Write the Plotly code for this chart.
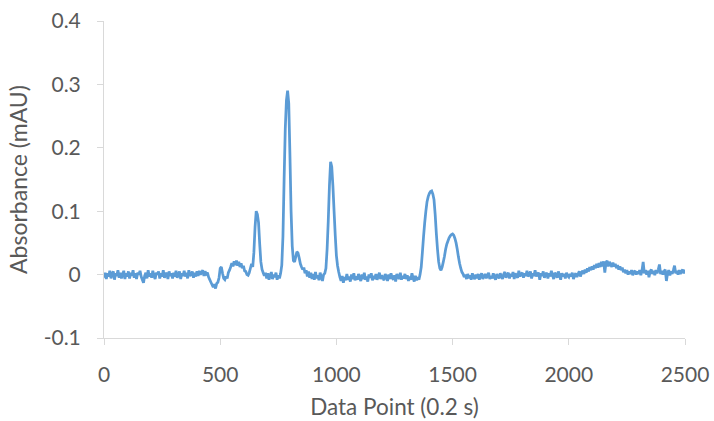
import plotly.graph_objects as go

# Data point index (every 5th point of the 0.2 s sampled trace)
data_point = list(range(0, 2501, 5))

# Absorbance, in thousandths of a mAU (1e-3 mAU units)
absorbance_milli = [
    # 0 - 95
    -5, 3, -7, 2, -3, 6, -6, 1, 5, -8, 2, -2, 7, -5, 3, -6, 0, 6, -7, 2,
    # 100 - 195
    -3, 5, -6, 3, -2, 7, -5, 2, -7, 3, 0, 6, -3, -8, -13, -2, 3, -6, 7, -3,
    # 200 - 295
    2, -5, 6, -2, -7, 3, 0, 5, -6, 2, -3, 7, -5, 0, 3, -7, 5, -2, 2, -6,
    # 300 - 395
    3, -3, 6, -5, 0, 5, -7, 2, -2, 6, -3, 3, -6, 7, -2, 0, 5, -5, 3, -3,
    # 400 - 495
    5, -2, 6, 0, 3, 7, -2, 5, 1, 3, -4, -8, -12, -16, -20, -15, -22, -14, -12, -5,
    # 500 - 595
    10, 12, 2, -6, -8, -3, -6, 3, 7, 12, 18, 13, 21, 15, 22, 14, 20, 12, 18, 10,
    # 600 - 695
    14, 6, 5, 0, -1, 3, 10, 17, 12, 35, 75, 100, 95, 82, 48, 20, 8, 3, -2, 3,
    # 700 - 795
    -6, 2, -8, -2, 4, -7, 0, -4, 3, -8, -1, -6, 2, 15, 60, 150, 230, 275, 290, 270,
    # 800 - 895
    190, 100, 45, 22, 20, 28, 36, 34, 26, 17, 12, 8, 11, 2, 7, -3, 5, -5, 3, -7,
    # 900 - 995
    1, -8, 4, -6, -1, -9, 3, -4, -10, 0, 2, 10, 40, 85, 140, 178, 170, 140, 100, 62,
    # 1000 - 1095
    30, 14, 4, -4, -10, -2, -13, -4, -9, 1, -8, -3, -11, 0, -7, 2, -9, -3, -8, 1,
    # 1100 - 1195
    -5, -10, 0, -7, 3, -8, -3, -11, 0, -5, 2, -9, -2, -7, 1, -8, -3, 3, -7, -1,
    # 1200 - 1295
    -5, -9, 1, -3, -10, 0, -7, 2, -5, -8, -1, -11, 1, -3, -7, 3, -8, -2, -6, 1,
    # 1300 - 1395
    -7, -1, -10, -3, -8, 2, -5, -11, -2, -9, -4, -8, 0, 12, 35, 60, 82, 100, 115, 123,
    # 1400 - 1495
    128, 131, 132, 127, 118, 95, 65, 40, 20, 10, 7, 12, 20, 29, 40, 48, 53, 58, 61, 63,
    # 1500 - 1595
    64, 62, 57, 50, 40, 28, 18, 10, 4, 1, -4, 0, -7, 1, -6, -1, -8, 2, -4, -7,
    # 1600 - 1695
    0, -6, 1, -8, -2, 2, -7, -3, 1, -6, -1, 3, -7, -2, -6, 2, -4, -8, 1, -3,
    # 1700 - 1795
    -6, 2, -3, -7, 1, 4, -5, -1, 3, -6, 1, -3, 4, -7, 2, -2, -5, 6, -3, 1,
    # 1800 - 1895
    3, -5, 2, -2, 6, -3, 0, 5, -6, 2, -2, 7, -3, 1, 3, -8, 2, -2, 5, -5,
    # 1900 - 1995
    0, 3, -6, 2, -3, 6, -1, -7, 3, 0, -5, 5, -1, -8, 2, -3, 1, -6, 3, -2,
    # 2000 - 2095
    -4, 1, -3, 3, -7, -1, 2, -4, 1, 5, -3, 3, 6, 1, 8, 3, 10, 5, 12, 7,
    # 2100 - 2195
    13, 8, 15, 10, 17, 11, 18, 12, 20, 13, 21, 3, 19, 22, 13, 20, 16, 12, 19, 13,
    # 2200 - 2295
    17, 10, 15, 8, 13, 7, 11, 4, 8, 2, 7, 0, 5, 1, 7, -1, 4, 6, 0, 5,
    # 2300 - 2395
    1, 7, -1, 6, 20, 2, 7, 0, 6, -4, 5, 8, 1, 6, -1, 7, 2, 8, 16, 1,
    # 2400 - 2495
    6, 0, 5, 8, -10, 2, 7, -1, 5, 1, 7, 14, 2, 6, 0, 7, 1, 5, 8, 2,
    # 2500
    8,
]
absorbance = [v / 1000 for v in absorbance_milli]

x_ticks = [0, 500, 1000, 1500, 2000, 2500]
y_ticks = [-0.1, 0, 0.1, 0.2, 0.3, 0.4]
y_tick_text = ["-0.1", "0", "0.1", "0.2", "0.3", "0.4"]

x_title = "Data Point (0.2 s)"
y_title = "Absorbance (mAU)"

LINE_COLOR = "#5B9BD5"
AXIS_COLOR = "#D9D9D9"
TEXT_COLOR = "#595959"
FONT = "Lato"

fig = go.Figure(
    go.Scatter(
        x=data_point,
        y=absorbance,
        mode="lines",
        line=dict(color=LINE_COLOR, width=2.75, simplify=False),
        hoverinfo="skip",
    )
)

fig.update_layout(
    width=714,
    height=421,
    autosize=False,
    margin=dict(l=104, r=29, t=21, b=83),
    paper_bgcolor="white",
    plot_bgcolor="white",
    showlegend=False,
    font=dict(family=FONT, color=TEXT_COLOR, size=21),
)

fig.update_xaxes(
    range=[0, 2500],
    tickvals=x_ticks,
    ticks="outside",
    ticklen=6,
    tickcolor=AXIS_COLOR,
    tickwidth=1,
    showline=True,
    linecolor=AXIS_COLOR,
    linewidth=1,
    showgrid=False,
    zeroline=False,
    automargin=False,
    ticklabeloverflow="allow",
    tickfont=dict(family=FONT, size=21, color=TEXT_COLOR),
    ticklabelstandoff=12,
    title=dict(text=x_title, font=dict(family=FONT, size=22.5, color=TEXT_COLOR), standoff=14),
)

fig.update_yaxes(
    range=[-0.1, 0.4],
    tickvals=y_ticks,
    ticktext=y_tick_text,
    ticks="outside",
    ticklen=6,
    tickcolor=AXIS_COLOR,
    tickwidth=1,
    showline=True,
    linecolor=AXIS_COLOR,
    linewidth=1,
    showgrid=False,
    zeroline=False,
    automargin=False,
    ticklabeloverflow="allow",
    tickfont=dict(family=FONT, size=21, color=TEXT_COLOR),
    ticklabelstandoff=12,
    title=dict(text=y_title, font=dict(family=FONT, size=23, color=TEXT_COLOR), standoff=9),
)

# Remove the page's default body margin so the figure fills the window exactly.
fig.write_html(
    "out.html",
    config={"displayModeBar": False},
    post_script="document.body.style.margin='0';document.documentElement.style.overflow='hidden';",
)
